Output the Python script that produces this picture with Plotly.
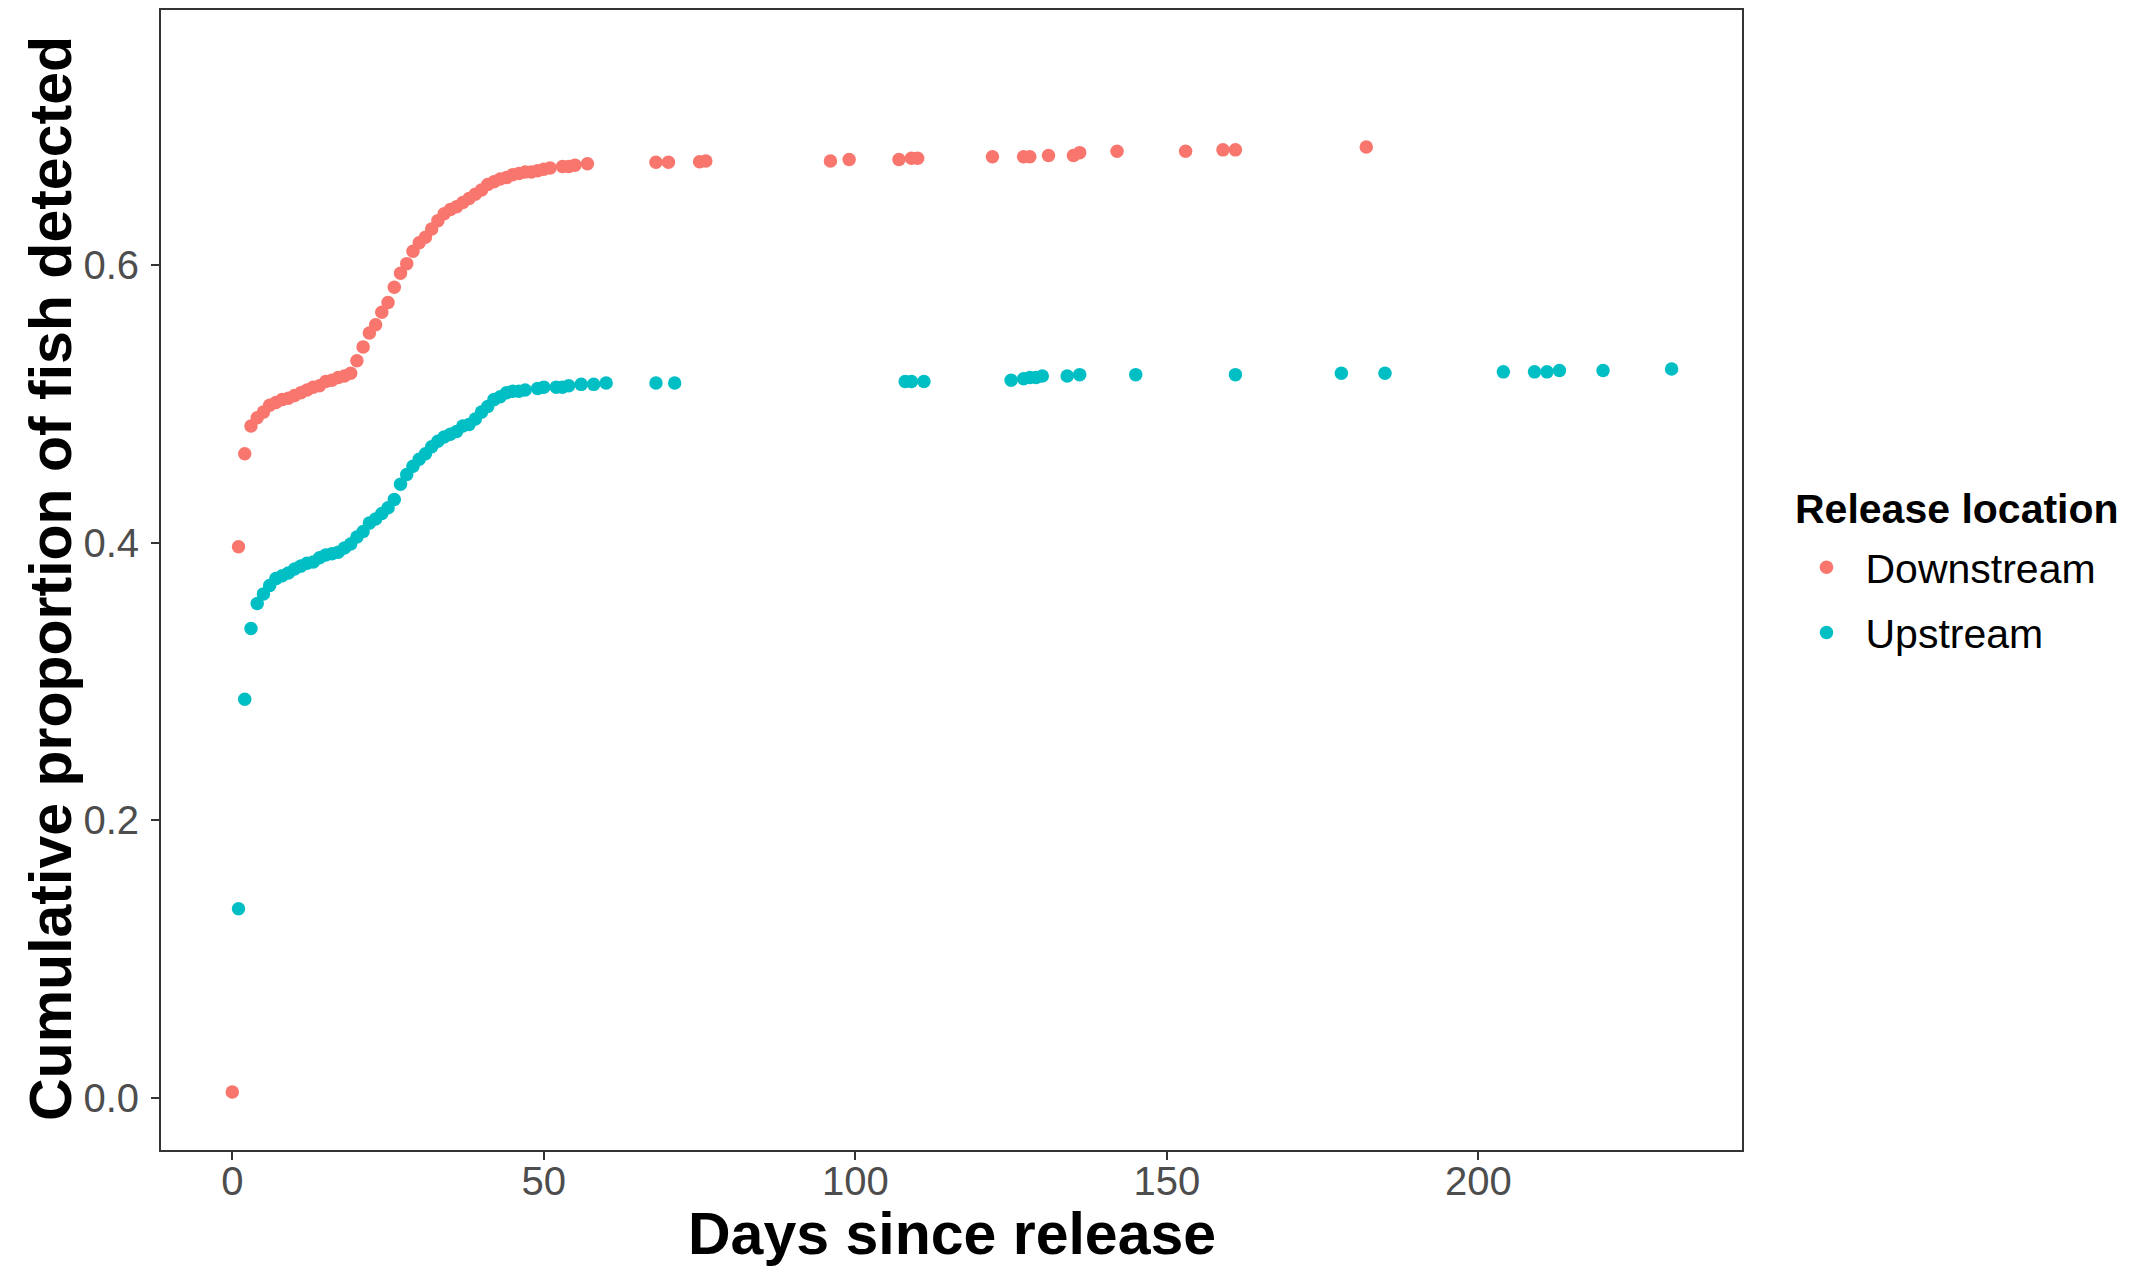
import plotly.graph_objects as go

# Downstream release (days since release, cumulative proportion)
down_days = [0, 1, 2, 3, 4, 5, 6, 7, 8, 9, 10, 11, 12, 13, 14, 15, 16, 17, 18, 19,
             20, 21, 22, 23, 24, 25, 26, 27, 28, 29, 30, 31, 32, 33, 34, 35, 36, 37,
             38, 39, 40, 41, 42, 43, 44, 45, 46, 47, 48, 49, 50, 51, 53, 54, 55, 57,
             68, 70, 75, 76, 96, 99, 107, 109, 110, 122, 127, 128, 131, 135, 136,
             142, 153, 159, 161, 182]
down_prop = [0.004, 0.397, 0.464, 0.484, 0.490, 0.494, 0.499, 0.501, 0.503, 0.504,
             0.506, 0.508, 0.510, 0.512, 0.513, 0.516, 0.517, 0.519, 0.520, 0.522,
             0.531, 0.541, 0.551, 0.557, 0.566, 0.573, 0.584, 0.594, 0.601, 0.610,
             0.616, 0.620, 0.626, 0.632, 0.637, 0.640, 0.642, 0.645, 0.648, 0.651,
             0.654, 0.658, 0.660, 0.662, 0.663, 0.665, 0.666, 0.667, 0.667, 0.668,
             0.669, 0.670, 0.671, 0.671, 0.672, 0.673,
             0.674, 0.674, 0.6745, 0.675, 0.675, 0.676, 0.676, 0.677, 0.677, 0.678,
             0.678, 0.678, 0.679, 0.679, 0.681, 0.682, 0.682, 0.683, 0.683, 0.685]

# Upstream release
up_days = [1, 2, 3, 4, 5, 6, 7, 8, 9, 10, 11, 12, 13, 14, 15, 16, 17, 18, 19, 20,
           21, 22, 23, 24, 25, 26, 27, 28, 29, 30, 31, 32, 33, 34, 35, 36, 37, 38,
           39, 40, 41, 42, 43, 44, 45, 46, 47, 49, 50, 52, 53, 54, 56, 58, 60,
           68, 71, 108, 109, 111, 125, 127, 128, 129, 130, 134, 136, 145, 161, 178,
           185, 204, 209, 211, 213, 220, 231]
up_prop = [0.136, 0.287, 0.338, 0.356, 0.363, 0.369, 0.374, 0.376, 0.378, 0.381,
           0.383, 0.385, 0.386, 0.389, 0.391, 0.392, 0.393, 0.396, 0.399, 0.404,
           0.408, 0.414, 0.417, 0.421, 0.425, 0.431, 0.442, 0.449, 0.455, 0.460,
           0.464, 0.469, 0.473, 0.476, 0.478, 0.480, 0.484, 0.485, 0.489, 0.494,
           0.498, 0.503, 0.505, 0.508, 0.509, 0.509, 0.510, 0.511, 0.512, 0.512,
           0.512, 0.513, 0.514, 0.514, 0.515,
           0.515, 0.515, 0.516, 0.516, 0.516, 0.517, 0.518, 0.519, 0.519, 0.520,
           0.520, 0.521, 0.521, 0.521, 0.522, 0.522, 0.523, 0.523, 0.523, 0.524,
           0.524, 0.525]

x_ticks = [0, 50, 100, 150, 200]
y_ticks = [0.0, 0.2, 0.4, 0.6]
y_tick_text = ["0.0", "0.2", "0.4", "0.6"]

FONT = "Liberation Sans, Arial, sans-serif"
RED = "#F8766D"
TEAL = "#00BFC4"
AX = "#333333"

# The page body has an 8px default margin, so the figure is 8px smaller.
W, H = 2143, 1261
ML, MR, MT, MB = 153, 409, 2, 119
PW = W - ML - MR          # plot width  (1581)
PH = H - MT - MB          # plot height (1140)
PX0 = ML + 8              # plot left on page
PY1 = H - MB + 8          # plot bottom on page


def px(page_x):
    return (page_x - PX0) / PW


def py(page_y):
    return (PY1 - page_y) / PH


fig = go.Figure()
fig.add_trace(go.Scatter(x=down_days, y=down_prop, mode="markers", name="Downstream",
                         legendgroup="d",
                         marker=dict(color=RED, size=13.5, line=dict(width=0))))
fig.add_trace(go.Scatter(x=up_days, y=up_prop, mode="markers", name="Upstream",
                         legendgroup="u",
                         marker=dict(color=TEAL, size=13.5, line=dict(width=0))))

fig.update_layout(
    width=W, height=H,
    paper_bgcolor="white", plot_bgcolor="white",
    margin=dict(l=ML, r=MR, t=MT, b=MB, autoexpand=False),
    font=dict(family=FONT, color="black"),
    legend=dict(
        font=dict(size=41, color="black"),
        xref="container", yref="container",
        x=1779.5 / W, xanchor="left",
        y=1 - 526 / H, yanchor="top",
        itemwidth=68, tracegroupgap=9,
    ),
    annotations=[
        dict(text="<b>Release location</b>", xref="paper", yref="paper",
             x=px(1793), xanchor="left",
             y=py(509), yanchor="middle",
             showarrow=False, font=dict(size=41, color="black", family=FONT)),
        dict(text="<b>Days since release</b>", xref="paper", yref="paper",
             x=px(952), xanchor="center",
             y=py(1234), yanchor="middle",
             showarrow=False, font=dict(size=59, color="black", family=FONT)),
        dict(text="<b>Cumulative proportion of fish detected</b>", xref="paper", yref="paper",
             x=px(51), xanchor="center",
             y=py(579), yanchor="middle", textangle=-90,
             showarrow=False, font=dict(size=59, color="black", family=FONT)),
    ],
)
fig.update_xaxes(
    range=[-11.44, 242.3], tickvals=x_ticks, automargin=False,
    ticks="outside", ticklen=8, tickwidth=2, tickcolor=AX,
    showline=True, mirror=True, linecolor=AX, linewidth=2,
    showgrid=False, zeroline=False, ticklabelstandoff=-13,
    tickfont=dict(size=40, color="#4D4D4D", family=FONT),
)
fig.update_yaxes(
    range=[-0.0378, 0.7838], tickvals=y_ticks, ticktext=y_tick_text, automargin=False,
    ticks="outside", ticklen=8, tickwidth=2, tickcolor=AX,
    showline=True, mirror=True, linecolor=AX, linewidth=2,
    showgrid=False, zeroline=False, ticklabelstandoff=4,
    tickfont=dict(size=40, color="#4D4D4D", family=FONT),
)

fig.write_html("out.html")
